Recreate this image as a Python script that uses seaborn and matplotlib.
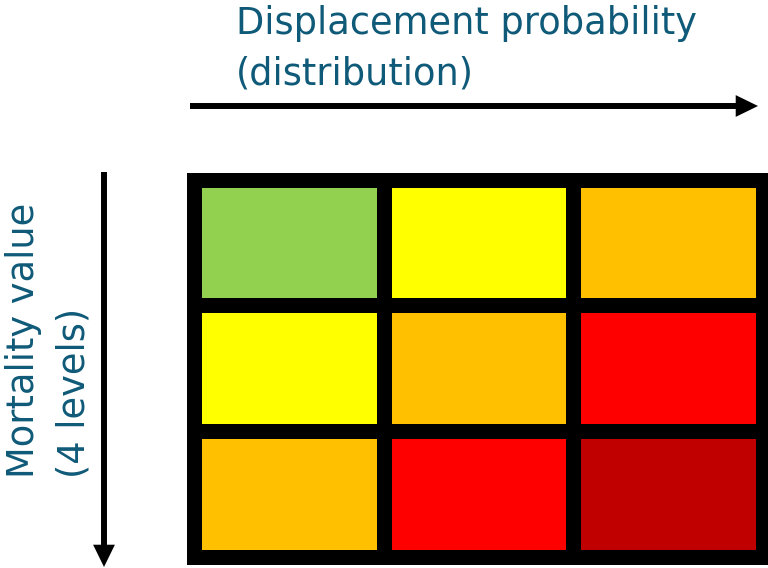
import numpy as np
import pandas as pd
import seaborn as sns
import matplotlib.pyplot as plt
from matplotlib.colors import ListedColormap
from matplotlib.patches import Rectangle

# Risk matrix: rows = mortality value, columns = displacement probability
probability_levels = ["Low", "Medium", "High"]
mortality_levels = ["Low", "Medium", "High"]
risk_scores = [[1, 2, 3],
               [2, 3, 4],
               [3, 4, 5]]
risk_colors = ["#92D050", "#FFFF00", "#FFC000", "#FF0000", "#C00000"]
x_title = "Displacement probability\n(distribution)"
y_title = "Mortality value\n(4 levels)"
text_color = "#0F5A78"

W, H = 768, 568
fig = plt.figure(figsize=(W / 100, H / 100), dpi=100)

# heatmap area (pixel coordinates measured from top-left)
left, right, top, bottom = 194, 763, 179.5, 557
ax = fig.add_axes([left / W, 1 - bottom / H, (right - left) / W, (bottom - top) / H])

df = pd.DataFrame(risk_scores, index=mortality_levels, columns=probability_levels)
sns.heatmap(df, ax=ax, cmap=ListedColormap(risk_colors), vmin=0.5, vmax=5.5,
            cbar=False, linewidths=10.8, linecolor="black",
            xticklabels=False, yticklabels=False)
ax.collections[0].set_clip_on(False)
for s in ax.spines.values():
    s.set_visible(False)
ax.set_xlabel("")
ax.set_ylabel("")

# thick outer frame with square corners
ax.add_patch(Rectangle((0, 0), 1, 1, transform=ax.transAxes, fill=False,
                       lw=10.8, edgecolor="black", joinstyle="miter",
                       clip_on=False, zorder=5))

# axis titles
fig.text(236 / W, 1 - 5 / H, x_title, ha="left", va="top", fontsize=26.5,
         color=text_color, linespacing=1.45)
fig.text(5 / W, 1 - 478 / H, y_title, ha="left", va="bottom", rotation=90,
         multialignment="left", fontsize=26.5, color=text_color, linespacing=1.45)

# direction arrows
arrow = dict(arrowstyle="-|>,head_length=0.45,head_width=0.22", lw=4.3,
             color="black", shrinkA=0, shrinkB=0, mutation_scale=20,
             capstyle="butt", joinstyle="miter")
ax.annotate("", xy=(758, H - 106), xytext=(190, H - 106),
            xycoords="figure pixels", textcoords="figure pixels",
            arrowprops=arrow, annotation_clip=False)
ax.annotate("", xy=(104, 1), xytext=(104, H - 172),
            xycoords="figure pixels", textcoords="figure pixels",
            arrowprops=arrow, annotation_clip=False)

fig.savefig("out.png", dpi=100)
